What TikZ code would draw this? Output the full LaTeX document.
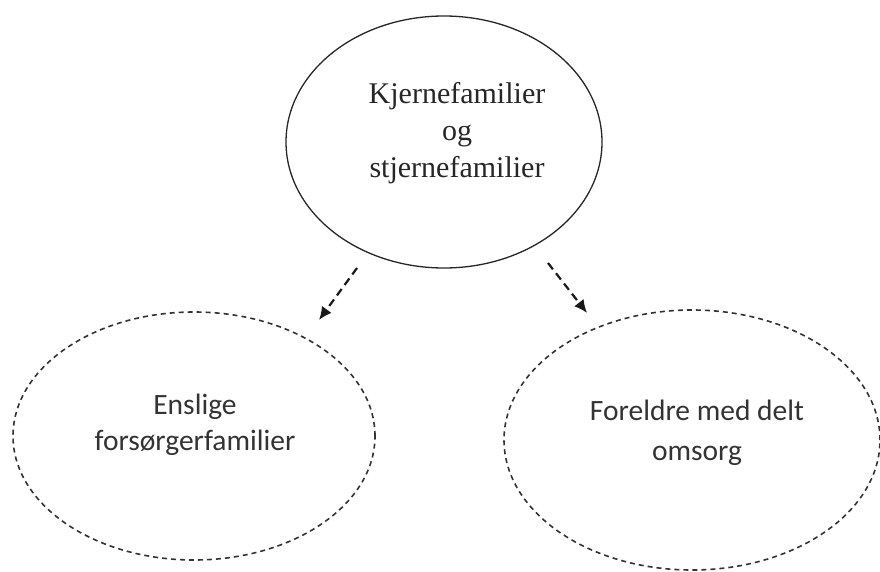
\documentclass[tikz,border=0pt]{standalone}
\usepackage{fontspec}
\setmainfont{Liberation Serif}
\newfontfamily\calibri{Carlito}
\usetikzlibrary{shapes.geometric,arrows.meta}
\tikzset{
  family/.style={ellipse, draw=black!85, line width=1.3pt, inner sep=0pt},
  subfamily/.style={ellipse, draw=black!80, line width=1.6pt, dash pattern=on 5pt off 4pt, inner sep=0pt},
  flow/.style={draw=black!90, line width=2.2pt, dash pattern=on 8pt off 5pt, -{Latex[length=13pt,width=12pt]}},
  serieftekst/.style={align=center, text=black!85, font=\fontsize{30}{37}\selectfont},
  sanstekst/.style={align=center, text=black!80, font=\calibri\fontsize{29.5}{36}\selectfont}
}
\begin{document}
\begin{tikzpicture}[x=1pt, y=-1pt]
\useasboundingbox (0,0) rectangle (880,572);
% ellipses
\node (kjerne) at (444,142) [family, minimum width=316pt, minimum height=252pt]{};
\node (enslige) at (194,436) [subfamily, minimum width=362pt, minimum height=248pt]{};
\node (delt) at (692,440) [subfamily, minimum width=376pt, minimum height=260pt]{};
% texts
\node (kjernetekst) at (457,133.5) [serieftekst]{Kjernefamilier\\og\\stjernefamilier};
\node (ensligetekst) at (195,425) [sanstekst]{Enslige\\forsørgerfamilier};
\node (delttekst) at (697,432.5) [sanstekst, font=\calibri\fontsize{29.5}{40}\selectfont]{Foreldre med delt\\omsorg};
% arrows
\coordinate (ut1) at (357,268);
\coordinate (inn1) at (319,320);
\coordinate (ut2) at (548,263);
\coordinate (inn2) at (587,313);
\draw[flow] (ut1) -- (inn1);
\draw[flow] (ut2) -- (inn2);
\end{tikzpicture}
\end{document}
